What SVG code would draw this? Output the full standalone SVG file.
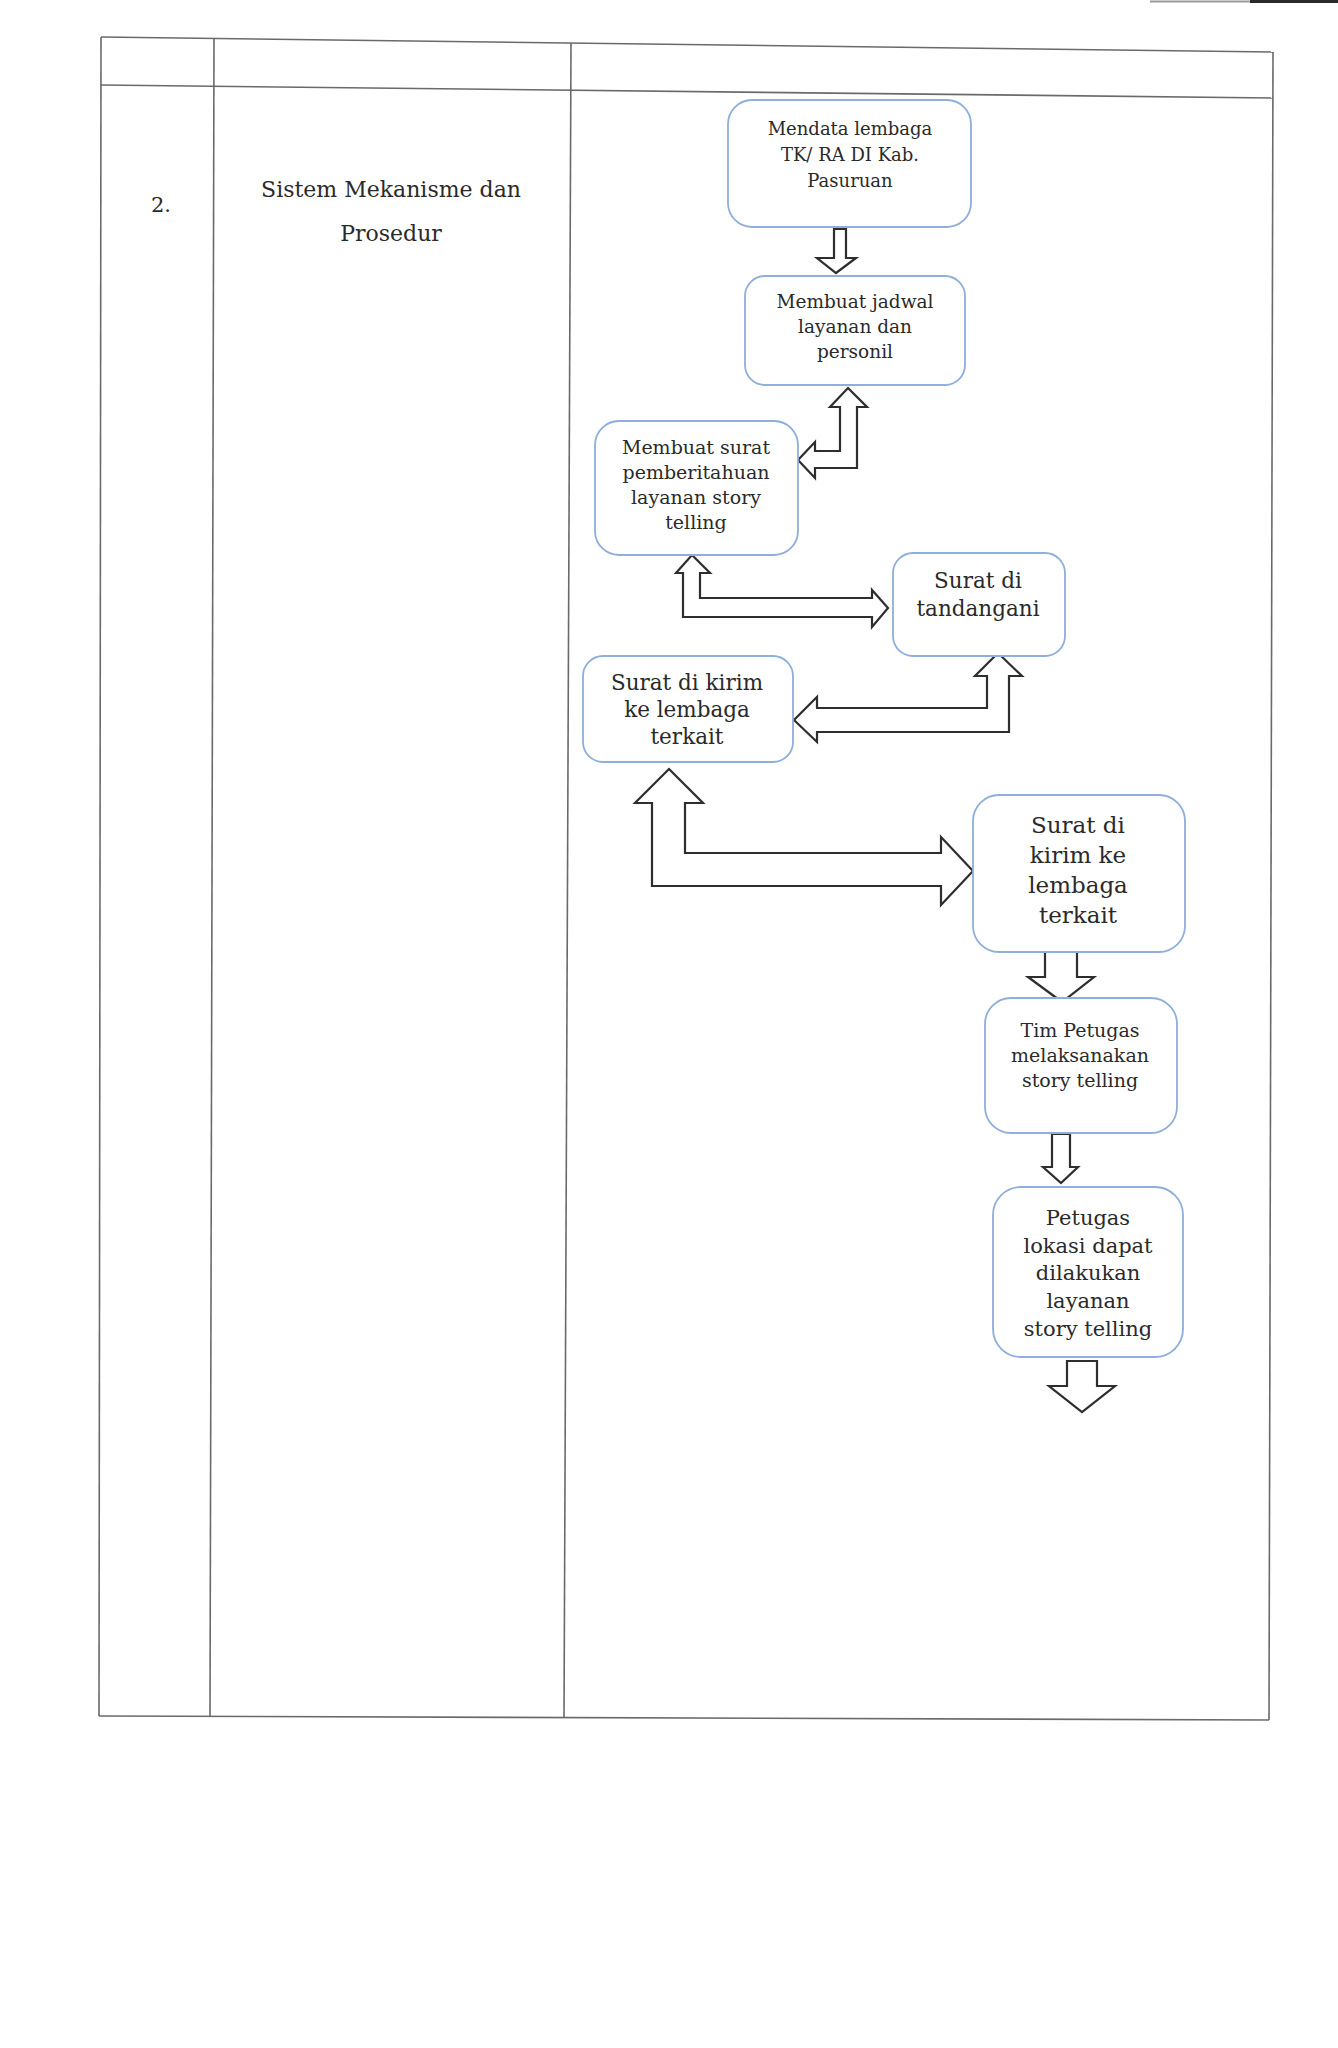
<svg xmlns="http://www.w3.org/2000/svg" width="1338" height="2048" viewBox="0 0 1338 2048">
<style>
.tbl{stroke:#6a6a6a;stroke-width:1.6;fill:none}
.box{fill:#ffffff;stroke:#8eaedb;stroke-width:1.8}
.arr{fill:#ffffff;stroke:#2e2e2e;stroke-width:2.2;stroke-linejoin:miter}
text{font-family:"DejaVu Serif","Liberation Serif",serif;fill:#2a2a2a;text-anchor:middle}
</style>
<rect width="1338" height="2048" fill="#ffffff"/>
<g id="scan-edges">
<line x1="1150" y1="1.5" x2="1250" y2="1.5" stroke="#9a9a9a" stroke-width="2"/>
<line x1="1250" y1="1.5" x2="1338" y2="1.5" stroke="#2a2a2a" stroke-width="3"/>
</g>
<g id="table">
<line class="tbl" x1="101" y1="37" x2="1273" y2="52"/>
<line class="tbl" x1="101" y1="85" x2="1273" y2="98"/>
<line class="tbl" x1="99" y1="1716" x2="1269" y2="1720"/>
<line class="tbl" x1="101" y1="37" x2="99" y2="1716"/>
<line class="tbl" x1="214" y1="38" x2="210" y2="1717"/>
<line class="tbl" x1="571" y1="43" x2="564" y2="1718"/>
<line class="tbl" x1="1273" y1="52" x2="1269" y2="1720"/>
<text x="161" y="212" font-size="21">2.</text>
<text x="391" y="197" font-size="22">Sistem Mekanisme dan</text>
<text x="391" y="241" font-size="22">Prosedur</text>
</g>
<g id="connectors">
<polygon class="arr" points="834,229 846,229 846,258 856,258 836,273 817,258 834,258"/>
<polygon class="arr" points="848,388 867,407 857,407 857,468 815,468 815,478 798,460 815,442 815,451 840,451 840,407 830,407"/>
<polygon class="arr" points="692,555 710,573 700,573 700,598 872,598 872,590 888,608 872,627 872,617 683,617 683,573 676,573"/>
<polygon class="arr" points="998,653 1022,676 1009,676 1009,732 817,732 817,742 794,720 817,697 817,708 987,708 987,676 975,676"/>
<polygon class="arr" points="669,769 703,803 685,803 685,853 941,853 941,837 973,871 941,905 941,886 652,886 652,803 635,803"/>
<polygon class="arr" points="1045,951 1077,951 1077,977 1094,977 1062,1002 1028,977 1045,977"/>
<polygon class="arr" points="1052,1134 1070,1134 1070,1167 1078,1167 1061,1183 1043,1167 1052,1167"/>
<polygon class="arr" points="1067,1361 1097,1361 1097,1386 1115,1386 1082,1412 1049,1386 1067,1386"/>
</g>
<g id="node1">
<rect class="box" x="728" y="100" width="243" height="127" rx="24"/>
<text x="850" y="135" font-size="18">Mendata lembaga</text>
<text x="850" y="161" font-size="18">TK/ RA DI Kab.</text>
<text x="850" y="187" font-size="18">Pasuruan</text>
</g>
<g id="node2">
<rect class="box" x="745" y="276" width="220" height="109" rx="20"/>
<text x="855" y="308" font-size="18.5">Membuat jadwal</text>
<text x="855" y="333" font-size="18.5">layanan dan</text>
<text x="855" y="358" font-size="18.5">personil</text>
</g>
<g id="node3">
<rect class="box" x="595" y="421" width="203" height="134" rx="24"/>
<text x="696" y="454" font-size="19">Membuat surat</text>
<text x="696" y="479" font-size="19">pemberitahuan</text>
<text x="696" y="504" font-size="19">layanan story</text>
<text x="696" y="529" font-size="19">telling</text>
</g>
<g id="node4">
<rect class="box" x="893" y="553" width="172" height="103" rx="20"/>
<text x="978" y="588" font-size="21.5">Surat di</text>
<text x="978" y="616" font-size="21.5">tandangani</text>
</g>
<g id="node5">
<rect class="box" x="583" y="656" width="210" height="106" rx="20"/>
<text x="687" y="690" font-size="21.5">Surat di kirim</text>
<text x="687" y="717" font-size="21.5">ke lembaga</text>
<text x="687" y="744" font-size="21.5">terkait</text>
</g>
<g id="node6">
<rect class="box" x="973" y="795" width="212" height="157" rx="26"/>
<text x="1078" y="833" font-size="23">Surat di</text>
<text x="1078" y="863" font-size="23">kirim ke</text>
<text x="1078" y="893" font-size="23">lembaga</text>
<text x="1078" y="923" font-size="23">terkait</text>
</g>
<g id="node7">
<rect class="box" x="985" y="998" width="192" height="135" rx="26"/>
<text x="1080" y="1037" font-size="19">Tim Petugas</text>
<text x="1080" y="1062" font-size="19">melaksanakan</text>
<text x="1080" y="1087" font-size="19">story telling</text>
</g>
<g id="node8">
<rect class="box" x="993" y="1187" width="190" height="170" rx="28"/>
<text x="1088" y="1225" font-size="21">Petugas</text>
<text x="1088" y="1253" font-size="21">lokasi dapat</text>
<text x="1088" y="1280" font-size="21">dilakukan</text>
<text x="1088" y="1308" font-size="21">layanan</text>
<text x="1088" y="1336" font-size="21">story telling</text>
</g>
</svg>
